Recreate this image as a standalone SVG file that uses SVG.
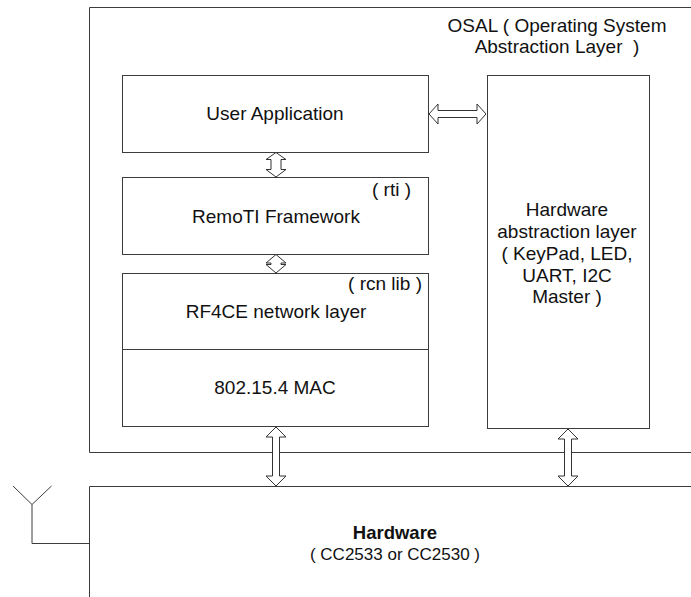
<svg xmlns="http://www.w3.org/2000/svg" width="691" height="597" viewBox="0 0 691 597">
<style>
.box{fill:#fff;stroke:#3c3c3c;stroke-width:1}
.ln{fill:none;stroke:#3c3c3c;stroke-width:1}
.arr{fill:#fff;stroke:#333;stroke-width:1;stroke-linejoin:miter}
text{font-family:"Liberation Sans",Arial,sans-serif;font-size:19px;fill:#111}
.c{text-anchor:middle}
.r{text-anchor:end}
.b{font-weight:bold}
</style>
<rect width="691" height="597" fill="#fff"/>
<g id="osal">
<path class="ln" d="M691 7.5H89.5V452.5H691"/>
<text class="c" x="557" y="32">OSAL ( Operating System</text>
<text class="c" x="557" y="53" xml:space="preserve">Abstraction Layer  )</text>
</g>
<g id="hardware">
<path class="ln" d="M691 486.5H89.5V597"/>
<text class="c b" x="395" y="539" style="font-size:18.5px">Hardware</text>
<text class="c" x="395" y="560" style="font-size:17px">( CC2533 or CC2530 )</text>
</g>
<g id="antenna">
<path class="ln" d="M13 486L32 504.5L51.5 486M32 504.5V543.5H89.5"/>
</g>
<g id="user-application">
<rect class="box" x="122.5" y="75.5" width="306" height="77"/>
<text class="c" x="275" y="120">User Application</text>
</g>
<g id="remoti">
<rect class="box" x="122.5" y="177.5" width="306" height="77"/>
<text class="r" x="411" y="196">( rti )</text>
<text class="c" x="276" y="223">RemoTI Framework</text>
</g>
<g id="rf4ce">
<rect class="box" x="122.5" y="273.5" width="306" height="76"/>
<text class="r" x="422" y="290">( rcn lib )</text>
<text class="c" x="276" y="318">RF4CE network layer</text>
</g>
<g id="mac">
<rect class="box" x="122.5" y="349.5" width="306" height="77"/>
<text class="c" x="275" y="394">802.15.4 MAC</text>
</g>
<g id="hal">
<rect class="box" x="487.5" y="75.5" width="162" height="353"/>
<text class="c" x="567" y="216">Hardware</text>
<text class="c" x="567" y="238">abstraction layer</text>
<text class="c" x="567" y="260">( KeyPad, LED,</text>
<text class="c" x="567" y="282">UART, I2C</text>
<text class="c" x="567" y="303">Master )</text>
</g>
<g id="connectors">
<polygon class="arr" points="429,114 438,104 438,110.5 477,110.5 477,104 486,114 477,124 477,117.5 438,117.5 438,124"/>
<polygon class="arr" points="276,152.5 286,159.5 281,159.5 281,169.5 286,169.5 276,177 266,169.5 271,169.5 271,159.5 266,159.5"/>
<polygon class="arr" points="276,254.5 286,263 281,263 281,264.5 286,264.5 276,273 266,264.5 271,264.5 271,263 266,263"/>
<polygon class="arr" points="276,427 286,437 279.5,437 279.5,476 286,476 276,486 266,476 272.5,476 272.5,437 266,437"/>
<polygon class="arr" points="568,429 578,439 571.5,439 571.5,476 578,476 568,486 558,476 564.5,476 564.5,439 558,439"/>
</g>
</svg>
